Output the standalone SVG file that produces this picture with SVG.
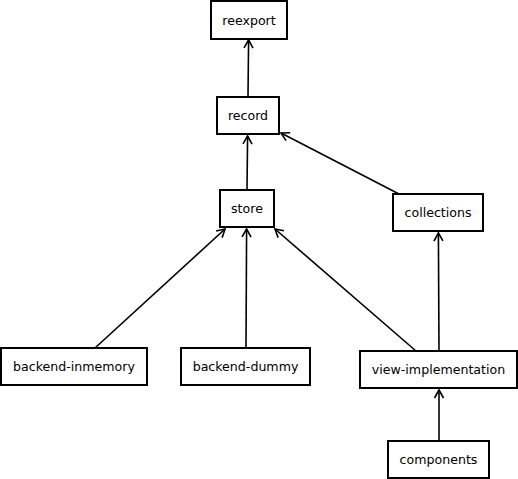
<svg xmlns="http://www.w3.org/2000/svg" width="518" height="479" viewBox="0 0 518 479">
<style>
.n rect{fill:#fff;stroke:#000;stroke-width:2}
.n text{font-family:"DejaVu Sans",sans-serif;font-size:12.6px;fill:#000;text-anchor:middle}
#edges line{stroke:#000;stroke-width:1.6;marker-end:url(#a)}
</style>
<defs>
<marker id="a" markerUnits="userSpaceOnUse" markerWidth="12" markerHeight="12" viewBox="-10 -6 12 12" refX="0" refY="0" orient="auto">
<path d="M-8,-4.5 L0,0 L-8,4.5" fill="none" stroke="#000" stroke-width="1.6"/>
</marker>
</defs>
<rect width="518" height="479" fill="#fff"/>
<g id="edges">
<line x1="248" y1="97" x2="248.6" y2="40"/>
<line x1="247" y1="190" x2="247.6" y2="136"/>
<line x1="399" y1="194" x2="281" y2="133"/>
<line x1="95" y1="348" x2="225" y2="229"/>
<line x1="246" y1="348" x2="246.6" y2="229"/>
<line x1="416" y1="351" x2="275" y2="229"/>
<line x1="439" y1="351" x2="438.4" y2="233"/>
<line x1="439" y1="441" x2="439" y2="390"/>
</g>
<g id="reexport" class="n"><rect x="211" y="1" width="76" height="38"/><text x="249" y="24.5">reexport</text></g>
<g id="record" class="n"><rect x="217" y="97" width="62" height="37"/><text x="248" y="120">record</text></g>
<g id="store" class="n"><rect x="220" y="190" width="54" height="37"/><text x="247" y="213">store</text></g>
<g id="collections" class="n"><rect x="393" y="194" width="90" height="37"/><text x="438" y="217">collections</text></g>
<g id="backend-inmemory" class="n"><rect x="1" y="348" width="146" height="37"/><text x="74" y="371">backend-inmemory</text></g>
<g id="backend-dummy" class="n"><rect x="181" y="348" width="129" height="37"/><text x="245.5" y="371">backend-dummy</text></g>
<g id="view-implementation" class="n"><rect x="360" y="351" width="157" height="37"/><text x="438.5" y="374">view-implementation</text></g>
<g id="components" class="n"><rect x="388" y="441" width="101" height="37"/><text x="438.5" y="464">components</text></g>
</svg>
